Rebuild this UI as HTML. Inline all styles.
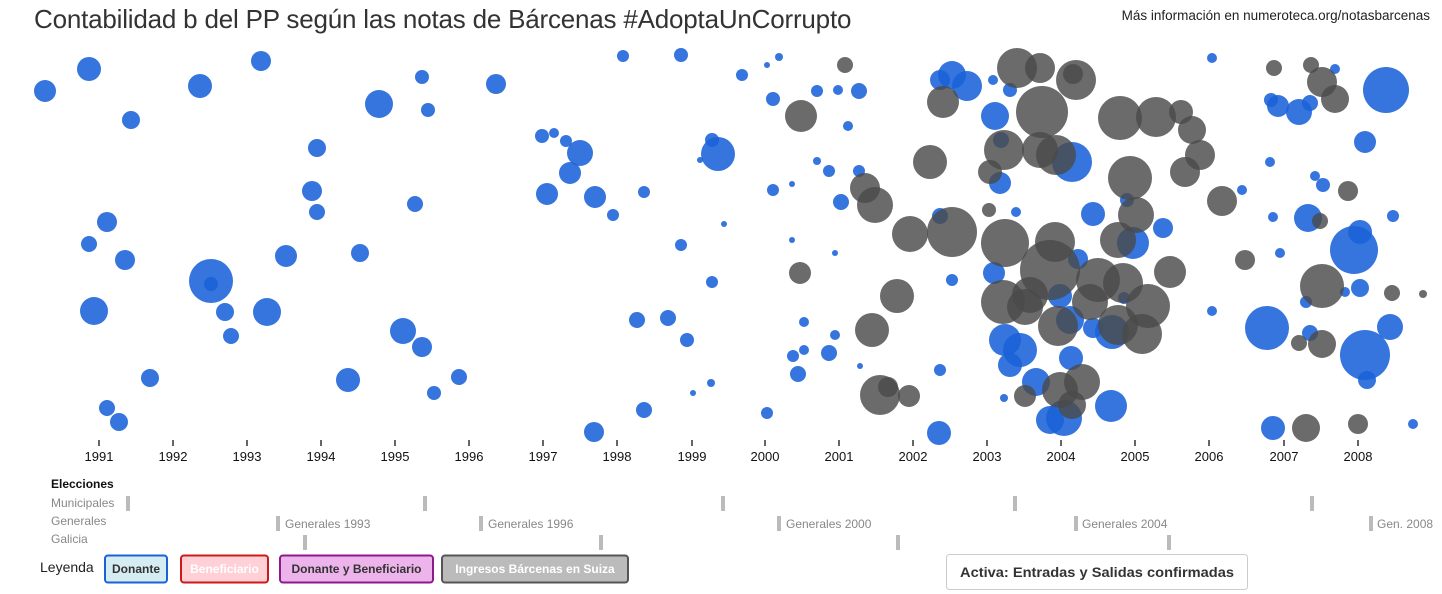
<!DOCTYPE html>
<html><head><meta charset="utf-8"><style>
body{margin:0;background:#fff;font-family:"Liberation Sans",sans-serif;}
.wrap{position:relative;width:1442px;height:594px;overflow:hidden}
.t{position:absolute;left:34px;top:4px;font-size:26px;color:#333;letter-spacing:-0.2px}
.r{position:absolute;right:12px;top:8px;font-size:13.5px;color:#222}
</style></head><body><div class="wrap">
<div class="t">Contabilidad b del PP según las notas de Bárcenas #AdoptaUnCorrupto</div>
<div class="r">Más información en numeroteca.org/notasbarcenas</div>
<svg width="1442" height="594" style="position:absolute;left:0;top:0" font-family="Liberation Sans, sans-serif">
<g fill="#1a62d8" fill-opacity="0.88">
<circle cx="45" cy="91" r="11"/><circle cx="89" cy="69" r="12"/><circle cx="131" cy="120" r="9"/><circle cx="200" cy="86" r="12"/><circle cx="261" cy="61" r="10"/><circle cx="379" cy="104" r="14"/><circle cx="422" cy="77" r="7"/><circle cx="428" cy="110" r="7"/><circle cx="496" cy="84" r="10"/><circle cx="317" cy="148" r="9"/><circle cx="312" cy="191" r="10"/><circle cx="317" cy="212" r="8"/><circle cx="415" cy="204" r="8"/><circle cx="107" cy="222" r="10"/><circle cx="89" cy="244" r="8"/><circle cx="125" cy="260" r="10"/><circle cx="211" cy="281" r="22"/><circle cx="211" cy="284" r="7"/><circle cx="286" cy="256" r="11"/><circle cx="360" cy="253" r="9"/><circle cx="94" cy="311" r="14"/><circle cx="225" cy="312" r="9"/><circle cx="267" cy="312" r="14"/><circle cx="231" cy="336" r="8"/><circle cx="403" cy="331" r="13"/><circle cx="422" cy="347" r="10"/><circle cx="150" cy="378" r="9"/><circle cx="348" cy="380" r="12"/><circle cx="459" cy="377" r="8"/><circle cx="434" cy="393" r="7"/><circle cx="107" cy="408" r="8"/><circle cx="119" cy="422" r="9"/>
<circle cx="542" cy="136" r="7"/><circle cx="554" cy="133" r="5"/><circle cx="566" cy="141" r="6"/><circle cx="580" cy="153" r="13"/><circle cx="570" cy="173" r="11"/><circle cx="547" cy="194" r="11"/><circle cx="595" cy="197" r="11"/><circle cx="613" cy="215" r="6"/><circle cx="644" cy="192" r="6"/><circle cx="623" cy="56" r="6"/><circle cx="681" cy="55" r="7"/><circle cx="742" cy="75" r="6"/><circle cx="767" cy="65" r="3"/><circle cx="779" cy="57" r="4"/><circle cx="712" cy="140" r="7"/><circle cx="718" cy="154" r="17"/><circle cx="700" cy="160" r="3"/><circle cx="681" cy="245" r="6"/><circle cx="724" cy="224" r="3"/><circle cx="712" cy="282" r="6"/><circle cx="637" cy="320" r="8"/><circle cx="668" cy="318" r="8"/><circle cx="687" cy="340" r="7"/><circle cx="594" cy="432" r="10"/><circle cx="644" cy="410" r="8"/><circle cx="693" cy="393" r="3"/><circle cx="711" cy="383" r="4"/>
<circle cx="773" cy="99" r="7"/><circle cx="817" cy="91" r="6"/><circle cx="838" cy="90" r="5"/><circle cx="859" cy="91" r="8"/><circle cx="848" cy="126" r="5"/><circle cx="817" cy="161" r="4"/><circle cx="829" cy="171" r="6"/><circle cx="792" cy="184" r="3"/><circle cx="773" cy="190" r="6"/><circle cx="841" cy="202" r="8"/><circle cx="859" cy="171" r="6"/><circle cx="792" cy="240" r="3"/><circle cx="835" cy="253" r="3"/><circle cx="804" cy="322" r="5"/><circle cx="835" cy="335" r="5"/><circle cx="804" cy="350" r="5"/><circle cx="793" cy="356" r="6"/><circle cx="829" cy="353" r="8"/><circle cx="798" cy="374" r="8"/><circle cx="860" cy="366" r="3"/><circle cx="767" cy="413" r="6"/>
<circle cx="940" cy="80" r="10"/><circle cx="952" cy="75" r="14"/><circle cx="967" cy="86" r="15"/><circle cx="993" cy="80" r="5"/><circle cx="995" cy="116" r="14"/><circle cx="1010" cy="90" r="7"/><circle cx="1000" cy="183" r="11"/><circle cx="1016" cy="212" r="5"/><circle cx="940" cy="216" r="8"/><circle cx="952" cy="280" r="6"/><circle cx="994" cy="273" r="11"/><circle cx="1072" cy="162" r="20"/><circle cx="1060" cy="296" r="12"/><circle cx="1070" cy="320" r="14"/><circle cx="1071" cy="358" r="12"/><circle cx="1064" cy="418" r="18"/><circle cx="1050" cy="420" r="14"/><circle cx="1036" cy="382" r="14"/><circle cx="1005" cy="340" r="16"/><circle cx="1020" cy="350" r="17"/><circle cx="1010" cy="365" r="12"/><circle cx="1004" cy="398" r="4"/><circle cx="1093" cy="328" r="10"/><circle cx="1112" cy="332" r="17"/><circle cx="1093" cy="214" r="12"/><circle cx="1133" cy="243" r="16"/><circle cx="1163" cy="228" r="10"/><circle cx="1124" cy="298" r="6"/><circle cx="1111" cy="406" r="16"/><circle cx="1127" cy="200" r="7"/><circle cx="1078" cy="259" r="10"/><circle cx="1001" cy="140" r="8"/><circle cx="939" cy="433" r="12"/><circle cx="940" cy="370" r="6"/>
<circle cx="1212" cy="58" r="5"/><circle cx="1242" cy="190" r="5"/><circle cx="1270" cy="162" r="5"/><circle cx="1315" cy="176" r="5"/><circle cx="1323" cy="185" r="7"/><circle cx="1273" cy="217" r="5"/><circle cx="1280" cy="253" r="5"/><circle cx="1308" cy="218" r="14"/><circle cx="1278" cy="106" r="11"/><circle cx="1299" cy="112" r="13"/><circle cx="1310" cy="103" r="8"/><circle cx="1386" cy="90" r="23"/><circle cx="1365" cy="142" r="11"/><circle cx="1354" cy="250" r="24"/><circle cx="1360" cy="232" r="12"/><circle cx="1365" cy="355" r="25"/><circle cx="1345" cy="292" r="5"/><circle cx="1360" cy="288" r="9"/><circle cx="1393" cy="216" r="6"/><circle cx="1390" cy="327" r="13"/><circle cx="1367" cy="380" r="9"/><circle cx="1267" cy="328" r="22"/><circle cx="1273" cy="428" r="12"/><circle cx="1310" cy="333" r="8"/><circle cx="1306" cy="302" r="6"/><circle cx="1335" cy="69" r="5"/><circle cx="1271" cy="100" r="7"/><circle cx="1413" cy="424" r="5"/><circle cx="1212" cy="311" r="5"/>
</g>
<g fill="#4a4a4a" fill-opacity="0.82">
<circle cx="845" cy="65" r="8"/><circle cx="801" cy="116" r="16"/><circle cx="865" cy="188" r="15"/><circle cx="875" cy="205" r="18"/><circle cx="910" cy="234" r="18"/><circle cx="952" cy="232" r="25"/><circle cx="930" cy="162" r="17"/><circle cx="943" cy="102" r="16"/><circle cx="1017" cy="68" r="20"/><circle cx="1040" cy="68" r="15"/><circle cx="1076" cy="80" r="20"/><circle cx="1042" cy="112" r="26"/><circle cx="1073" cy="74" r="10"/><circle cx="1040" cy="150" r="18"/><circle cx="1004" cy="150" r="20"/><circle cx="990" cy="172" r="12"/><circle cx="1056" cy="155" r="20"/><circle cx="1055" cy="242" r="20"/><circle cx="1005" cy="243" r="24"/><circle cx="1050" cy="270" r="30"/><circle cx="1098" cy="280" r="22"/><circle cx="1123" cy="283" r="20"/><circle cx="1148" cy="306" r="22"/><circle cx="1142" cy="334" r="20"/><circle cx="1118" cy="325" r="20"/><circle cx="1090" cy="302" r="18"/><circle cx="1058" cy="326" r="20"/><circle cx="1030" cy="295" r="18"/><circle cx="1003" cy="302" r="22"/><circle cx="1025" cy="307" r="18"/><circle cx="1118" cy="240" r="18"/><circle cx="1130" cy="178" r="22"/><circle cx="1120" cy="118" r="22"/><circle cx="1156" cy="117" r="20"/><circle cx="1136" cy="215" r="18"/><circle cx="1170" cy="272" r="16"/><circle cx="1181" cy="112" r="12"/><circle cx="1192" cy="130" r="14"/><circle cx="1200" cy="155" r="15"/><circle cx="1185" cy="172" r="15"/><circle cx="1222" cy="201" r="15"/><circle cx="1245" cy="260" r="10"/><circle cx="800" cy="273" r="11"/><circle cx="897" cy="296" r="17"/><circle cx="872" cy="330" r="17"/><circle cx="880" cy="395" r="20"/><circle cx="888" cy="387" r="10"/><circle cx="909" cy="396" r="11"/><circle cx="989" cy="210" r="7"/><circle cx="1082" cy="382" r="18"/><circle cx="1072" cy="405" r="14"/><circle cx="1025" cy="396" r="11"/><circle cx="1060" cy="390" r="18"/><circle cx="1274" cy="68" r="8"/><circle cx="1311" cy="65" r="8"/><circle cx="1322" cy="82" r="15"/><circle cx="1335" cy="99" r="14"/><circle cx="1320" cy="221" r="8"/><circle cx="1348" cy="191" r="10"/><circle cx="1322" cy="286" r="22"/><circle cx="1322" cy="344" r="14"/><circle cx="1299" cy="343" r="8"/><circle cx="1306" cy="428" r="14"/><circle cx="1358" cy="424" r="10"/><circle cx="1392" cy="293" r="8"/><circle cx="1423" cy="294" r="4"/>
</g>
<g stroke="#000" stroke-width="1.2">
<line x1="99" y1="440" x2="99" y2="446"/><line x1="173" y1="440" x2="173" y2="446"/><line x1="247" y1="440" x2="247" y2="446"/><line x1="321" y1="440" x2="321" y2="446"/><line x1="395" y1="440" x2="395" y2="446"/><line x1="469" y1="440" x2="469" y2="446"/><line x1="543" y1="440" x2="543" y2="446"/><line x1="617" y1="440" x2="617" y2="446"/><line x1="692" y1="440" x2="692" y2="446"/><line x1="765" y1="440" x2="765" y2="446"/><line x1="839" y1="440" x2="839" y2="446"/><line x1="913" y1="440" x2="913" y2="446"/><line x1="987" y1="440" x2="987" y2="446"/><line x1="1061" y1="440" x2="1061" y2="446"/><line x1="1135" y1="440" x2="1135" y2="446"/><line x1="1209" y1="440" x2="1209" y2="446"/><line x1="1284" y1="440" x2="1284" y2="446"/><line x1="1358" y1="440" x2="1358" y2="446"/>
</g>
<g font-size="13" fill="#111" text-anchor="middle">
<text x="99" y="461">1991</text><text x="173" y="461">1992</text><text x="247" y="461">1993</text><text x="321" y="461">1994</text><text x="395" y="461">1995</text><text x="469" y="461">1996</text><text x="543" y="461">1997</text><text x="617" y="461">1998</text><text x="692" y="461">1999</text><text x="765" y="461">2000</text><text x="839" y="461">2001</text><text x="913" y="461">2002</text><text x="987" y="461">2003</text><text x="1061" y="461">2004</text><text x="1135" y="461">2005</text><text x="1209" y="461">2006</text><text x="1284" y="461">2007</text><text x="1358" y="461">2008</text>
</g>
<text x="51" y="488" font-size="12" font-weight="bold" fill="#111">Elecciones</text>
<g font-size="12" fill="#888"><text x="51" y="507">Municipales</text><text x="51" y="525">Generales</text><text x="51" y="543">Galicia</text>
<text x="285" y="528">Generales 1993</text><text x="488" y="528">Generales 1996</text><text x="786" y="528">Generales 2000</text><text x="1082" y="528">Generales 2004</text><text x="1377" y="528">Gen. 2008</text></g>
<g fill="#bbb">
<rect x="126" y="496" width="4" height="15"/><rect x="423" y="496" width="4" height="15"/><rect x="721" y="496" width="4" height="15"/><rect x="1013" y="496" width="4" height="15"/><rect x="1310" y="496" width="4" height="15"/>
<rect x="276" y="516" width="4" height="15"/><rect x="479" y="516" width="4" height="15"/><rect x="777" y="516" width="4" height="15"/><rect x="1074" y="516" width="4" height="15"/><rect x="1369" y="516" width="4" height="15"/>
<rect x="303" y="535" width="4" height="15"/><rect x="599" y="535" width="4" height="15"/><rect x="896" y="535" width="4" height="15"/><rect x="1167" y="535" width="4" height="15"/>
</g>
<text x="40" y="572" font-size="14" fill="#222">Leyenda</text>
<g font-size="12" font-weight="bold" text-anchor="middle">
<rect x="105" y="555.5" width="62" height="27" rx="3" fill="#d5ecf2" stroke="#1a62d8" stroke-width="2"/><text x="136" y="573" fill="#333">Donante</text>
<rect x="181" y="555.5" width="87" height="27" rx="3" fill="#ffd0d5" stroke="#cc1a1a" stroke-width="2"/><text x="224.5" y="573" fill="#fff">Beneficiario</text>
<rect x="280" y="555.5" width="153" height="27" rx="3" fill="#edb3eb" stroke="#8b1a8b" stroke-width="2"/><text x="356.5" y="573" fill="#333">Donante y Beneficiario</text>
<rect x="442" y="555.5" width="186" height="27" rx="3" fill="#bbb" stroke="#555" stroke-width="2"/><text x="535" y="573" fill="#fff">Ingresos Bárcenas en Suiza</text>
<rect x="946.5" y="554.5" width="301" height="35" rx="3" fill="#fff" stroke="#ccc"/><text x="1097" y="577" font-size="14" fill="#333" textLength="274" lengthAdjust="spacingAndGlyphs">Activa: Entradas y Salidas confirmadas</text>
</g>
</svg></div></body></html>
